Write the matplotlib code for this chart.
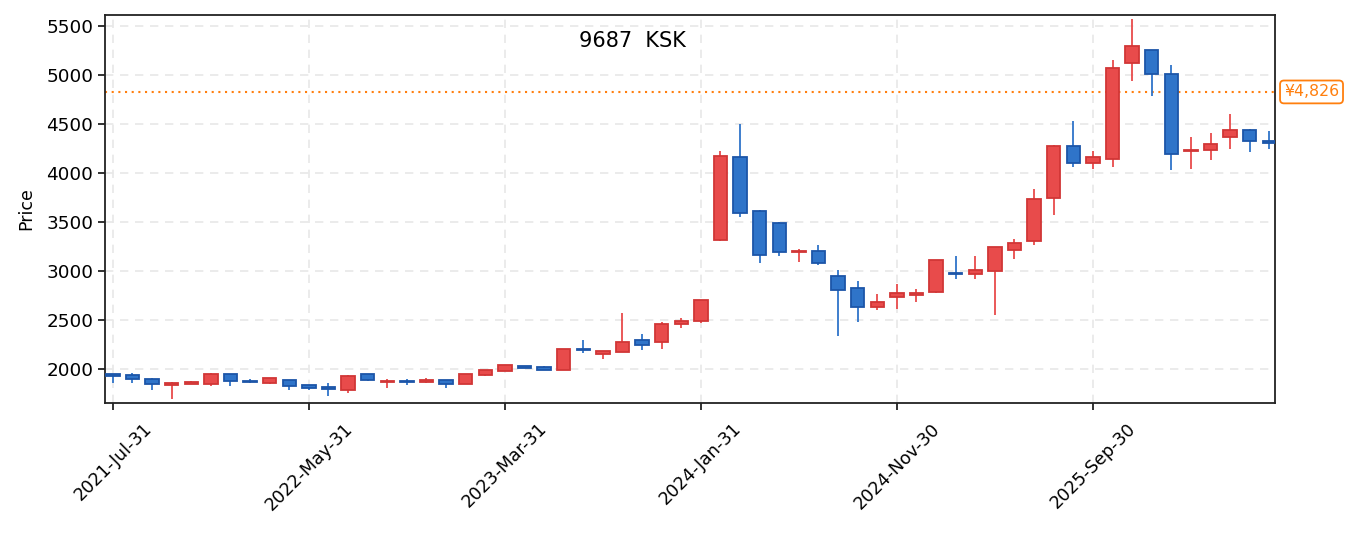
import pandas as pd
import matplotlib
matplotlib.use("Agg")
import matplotlib.pyplot as plt

plt.rcParams['font.family'] = ['DejaVu Sans']

# miesieczne swiece 2021-07 .. 2026-06
daty = pd.date_range("2021-07-31", periods=60, freq="ME")

otwarcie = [1946, 1935, 1895, 1835, 1846, 1846, 1946, 1882, 1856, 1884,
            1832, 1814, 1782, 1946, 1866, 1882, 1866, 1884, 1846, 1937,
            1977, 2033, 2025, 1990, 2208, 2155, 2172, 2296, 2280, 2458,
            2493, 3314, 4166, 3607, 3491, 3190, 3205, 2950, 2827, 2637,
            2733, 2750, 2787, 2983, 2967, 3004, 3212, 3304, 3744, 4278,
            4102, 4139, 5126, 5255, 5013, 4220, 4232, 4364, 4442, 4325]
zamkniecie = [1932, 1900, 1845, 1855, 1872, 1948, 1875, 1866, 1903, 1823,
              1806, 1795, 1925, 1885, 1882, 1866, 1886, 1846, 1945, 1985,
              2036, 2010, 1990, 2205, 2190, 2185, 2277, 2245, 2458, 2488,
              2703, 4176, 3590, 3160, 3192, 3208, 3076, 2810, 2637, 2683,
              2775, 2778, 3113, 2965, 3010, 3246, 3287, 3737, 4278, 4101,
              4165, 5071, 5299, 5007, 4197, 4236, 4295, 4442, 4323, 4305]
maks = [1948, 1959, 1905, 1864, 1875, 1960, 1948, 1898, 1906, 1886,
        1834, 1857, 1939, 1950, 1898, 1898, 1908, 1886, 1948, 1988,
        2040, 2035, 2028, 2208, 2294, 2188, 2568, 2355, 2483, 2524,
        2706, 4224, 4500, 3621, 3495, 3219, 3263, 3014, 2902, 2762,
        2864, 2813, 3115, 3151, 3151, 3248, 3321, 3832, 4280, 4527,
        4221, 5150, 5568, 5258, 5099, 4364, 4405, 4605, 4445, 4425]
minimum = [1861, 1861, 1786, 1694, 1844, 1830, 1827, 1862, 1844, 1786,
           1790, 1728, 1759, 1882, 1810, 1840, 1862, 1810, 1842, 1933,
           1975, 2005, 1986, 1988, 2160, 2105, 2170, 2196, 2206, 2419,
           2470, 3310, 3553, 3083, 3154, 3093, 3062, 2336, 2480, 2606,
           2612, 2684, 2776, 2922, 2922, 2555, 3123, 3267, 3573, 4057,
           4043, 4061, 4939, 4786, 4027, 4037, 4133, 4245, 4214, 4245]

cena_ref = 4826
tytul = "9687  KSK"

czerwony = "#e84b4b"
czerwony_kraw = "#d13636"
niebieski = "#2f74c9"
niebieski_kraw = "#1c55a8"

fig = plt.figure(figsize=(13.55, 5.33), dpi=100)
ax = fig.add_axes([0.0775, 0.2439, 0.8636, 0.728])

for i in range(len(daty)):
    o, c, h, l = otwarcie[i], zamkniecie[i], maks[i], minimum[i]
    wzrost = c >= o
    kolor = czerwony if wzrost else niebieski
    kraw = czerwony_kraw if wzrost else niebieski_kraw
    ax.vlines(i, l, h, color=kolor, linewidth=1.3, zorder=2)
    dol = min(o, c)
    wys = max(abs(c - o), 8)
    ax.bar(i, wys, bottom=dol, width=0.68, color=kolor, edgecolor=kraw,
           linewidth=1.3, zorder=3)

# linia ceny odniesienia
ax.axhline(cena_ref, color="#ff7f0e", linestyle=(0, (1, 2.2)), linewidth=1.5, zorder=1)
ax.text(1.0075, cena_ref, f"¥{cena_ref:,}", transform=ax.get_yaxis_transform(),
        color="#ff7f0e", fontsize=11.3, va="center", ha="left",
        bbox=dict(boxstyle="round,pad=0.25", fc="white", ec="#ff7f0e", lw=1.3),
        clip_on=False)

ax.text(0.405, 0.934, tytul, transform=ax.transAxes, fontsize=15,
        ha="left", va="center")

pozycje = list(range(0, len(daty), 10))
ax.set_xticks(pozycje)
ax.set_xticklabels([daty[p].strftime("%Y-%b-%d") for p in pozycje],
                   rotation=45, fontsize=12.6)
ax.set_xlim(-0.4, 59.3)
ax.set_ylim(1653, 5611)
ax.set_yticks(range(2000, 5501, 500))
ax.tick_params(axis="y", labelsize=13.2, length=5, width=1.3, color="#222222")
ax.tick_params(axis="x", length=5, width=1.3, pad=7, color="#222222")
ax.set_ylabel("Price", fontsize=12.5, labelpad=8)
ax.grid(True, linestyle=(0, (5, 4)), color="#e8e8e8", linewidth=1.2)
ax.set_axisbelow(True)
for s in ax.spines.values():
    s.set_color("#222222")
    s.set_linewidth(1.3)

fig.savefig("out.png", dpi=100)
